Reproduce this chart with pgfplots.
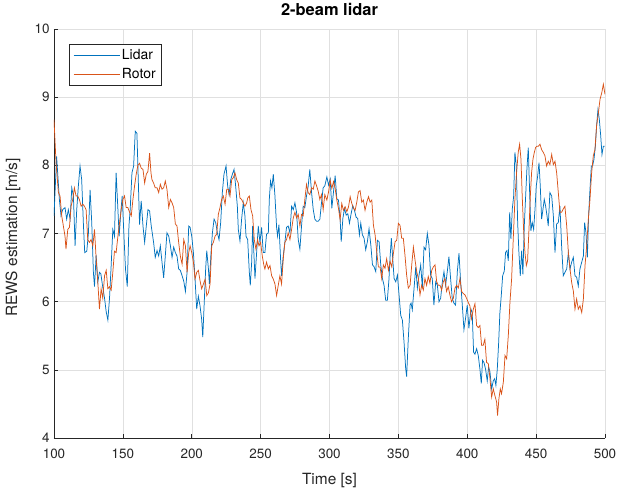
\documentclass[border=0pt]{standalone}
\usepackage{pgfplots}
\pgfplotsset{compat=1.18}
\usepackage{fontspec}
\setmainfont{TeX Gyre Heros}
\definecolor{mblue}{rgb}{0,0.447,0.741}
\definecolor{morange}{rgb}{0.85,0.325,0.098}
\definecolor{axgray}{rgb}{0.15,0.15,0.15}
\begin{document}
\begin{tikzpicture}
\useasboundingbox (-54bp,-55bp) rectangle (566bp,438bp);
\begin{axis}[
  at={(0,0)}, anchor=south west,
  scale only axis, width=551bp, height=409bp,
  xmin=100, xmax=500, ymin=4, ymax=10,
  xtick={100,150,...,500}, ytick={4,5,...,10},
  axis x line*=bottom, axis y line*=left,
  tick align=inside, major tick length=4bp,
  grid=major, grid style={color=black!12, line width=0.5pt},
  axis line style={axgray, line width=0.6pt, -},
  tick style={axgray, line width=0.6pt},
  ticklabel style={font=\fontsize{13.5}{16}\selectfont, text=axgray},
  xticklabel style={yshift=-7bp},
  yticklabel style={xshift=-1bp},
  /pgf/number format/assume math mode=true,
  /pgf/number format/1000 sep={},
  title={\textbf{2-beam lidar}},
  title style={at={(axis description cs:0.5,1.033)}, anchor=center, font=\fontsize{16.5}{19}\selectfont, text=black},
  xlabel={Time [s]}, ylabel={REWS estimation [m/s]},
  xlabel style={at={(axis description cs:0.5,-0.105)}, anchor=center, font=\fontsize{15.5}{18}\selectfont, text=axgray},
  ylabel style={at={(axis description cs:-0.0744,0.49)}, anchor=center, font=\fontsize{15.5}{18}\selectfont, text=axgray},
  legend style={at={(rel axis cs:0.0272,0.9633)}, anchor=north west, draw=axgray, line width=0.5pt,
    font=\fontsize{14}{16}\selectfont, text=black, inner xsep=4bp, inner ysep=3.5bp, row sep=3bp, fill=white},
  legend cell align=left,
  legend image code/.code={\draw[#1] (0bp,0bp)--(46bp,0bp);},
]
\addplot[mblue, line width=0.75pt] coordinates {
(100.0,7.26)(101.9,8.13)(103.9,7.5)(105.1,7.26)(106.3,7.35)(108.0,7.38)(109.2,7.21)(110.4,7.35)(111.7,7.21)(112.9,7.67)(114.1,7.55)(115.3,6.82)(116.5,7.35)(117.7,7.7)(118.9,7.99)(120.1,7.79)(121.4,7.11)(122.3,6.72)(123.8,6.74)(125.0,7.01)(126.2,7.64)(127.4,7.16)(128.6,6.43)(129.4,6.22)(130.6,6.68)(131.8,6.29)(133.0,6.43)(134.0,6.41)(135.2,6.24)(136.7,6.05)(137.9,5.85)(139.1,5.73)(140.3,6.05)(141.5,6.53)(142.7,7.06)(143.9,6.96)(145.1,7.89)(146.4,7.35)(147.3,6.96)(148.5,7.31)(149.5,7.55)(151.0,6.87)(151.9,6.48)(153.2,6.22)(154.4,7.11)(155.3,7.35)(156.6,7.89)(157.8,7.99)(159.0,8.5)(160.2,8.47)(160.9,7.99)(162.1,7.13)(163.3,7.48)(164.6,7.11)(165.8,6.87)(167.0,7.11)(168.2,7.35)(169.4,7.33)(170.6,7.11)(172.3,6.87)(173.5,6.65)(174.8,6.75)(176.0,6.67)(177.2,6.82)(178.4,6.58)(179.6,6.35)(180.8,6.67)(182.0,7.01)(183.3,6.96)(184.5,6.82)(185.7,6.65)(186.9,6.8)(188.1,6.72)(189.3,6.67)(190.5,6.48)(191.7,6.46)(193.0,6.38)(194.2,6.3)(195.4,6.15)(196.6,6.43)(197.8,7.11)(198.8,7.09)
(200.0,6.96)(201.2,6.72)(202.4,6.33)(203.6,5.89)(204.8,6.08)(206.0,5.94)(207.2,5.74)(208.0,5.48)(209.2,6.05)(210.1,6.48)(210.9,6.75)(212.1,6.48)(212.8,6.26)(214.0,6.72)(215.0,7.01)(216.2,7.21)(217.4,7.16)(218.6,7.01)(219.8,6.91)(221.0,7.16)(222.2,7.6)(223.4,7.87)(224.9,7.99)(226.1,7.69)(227.1,7.57)(228.3,7.79)(229.5,7.87)(230.7,7.94)(231.9,7.69)(233.1,7.4)(233.8,7.06)(235.0,6.89)(236.2,7.21)(237.4,7.45)(238.6,7.26)(239.4,6.96)(240.6,6.91)(241.8,6.43)(242.5,6.24)(243.5,6.58)(244.2,7.11)(245.2,6.67)(245.9,6.34)(247.1,6.72)(248.3,7.11)(249.5,6.87)(250.7,7.09)(251.9,6.72)(253.1,6.72)(254.3,6.99)(255.6,7.01)(256.3,7.5)(257.2,7.77)(258.2,7.67)(259.2,7.87)(260.4,7.55)(261.6,7.09)(262.3,6.96)(263.3,7.13)(264.5,6.62)(265.2,6.38)(266.4,6.67)(267.6,6.87)(268.8,7.09)(270.0,7.11)(271.3,7.01)(272.5,7.4)(273.7,7.35)(274.9,7.45)(276.1,7.31)(277.3,6.91)(278.5,6.77)(279.7,7.11)(280.9,7.4)(282.1,7.38)(283.3,7.55)(284.5,7.69)(285.7,7.94)(287.0,7.6)(288.2,7.35)(289.4,7.21)(290.6,7.18)(291.8,7.18)(293.0,7.21)(294.2,7.45)(295.4,7.67)(296.6,7.7)
(298.1,7.83)(299.3,7.71)(300.5,7.8)(301.7,7.37)(302.9,7.61)(304.1,7.85)(305.3,7.51)(306.5,7.49)(307.7,7.22)(308.5,6.88)(309.7,7.22)(310.9,7.37)(312.1,7.27)(313.3,7.29)(314.5,7.15)(315.7,7.29)(316.9,7.41)(318.1,7.34)(319.3,7.24)(320.5,7.22)(321.7,6.98)(322.7,7.15)(323.9,6.98)(325.1,6.93)(326.3,6.76)(327.5,6.88)(328.7,7.07)(330.0,6.83)(331.2,6.54)(332.4,6.51)(333.6,6.44)(334.8,6.9)(336.0,6.88)(337.2,6.54)(338.4,6.34)(339.6,6.24)(340.8,6.02)(342.0,6.02)(343.2,6.34)(344.0,6.66)(344.9,6.93)(345.9,6.63)(346.9,6.34)(348.1,6.29)(349.3,6.39)(350.5,6.1)(351.7,5.8)(352.9,5.73)(354.1,5.41)(355.3,5.02)(356.0,4.9)(357.2,5.46)(358.5,5.95)(359.2,5.98)(360.1,5.88)(361.4,6.2)(362.6,6.51)(363.8,6.2)(365.0,6.39)(366.2,6.54)(367.4,6.2)(368.6,6.8)(369.8,6.76)(371.0,7.0)(372.2,6.83)(373.4,6.39)(374.6,6.34)(375.8,5.95)(377.1,6.29)(378.3,6.24)(379.5,6.0)(380.7,6.05)(381.9,6.29)(383.1,6.44)(384.3,6.24)(385.5,6.44)(386.7,6.66)(387.9,6.34)(389.1,6.05)(390.3,5.98)(391.5,5.95)(392.8,6.44)(394.0,6.71)(395.2,6.29)(396.4,5.95)(397.6,5.59)(398.8,5.76)(400.0,5.95)(401.2,5.61)
(402.7,5.89)(403.6,5.84)(404.6,5.26)(405.6,5.23)(406.8,5.31)(408.0,5.21)(409.2,5.01)(410.2,4.8)(411.1,5.14)(412.1,5.11)(413.3,5.01)(414.5,4.84)(415.5,5.04)(416.5,4.97)(417.7,4.72)(418.9,4.84)(419.9,4.87)(420.8,4.77)(421.8,5.01)(422.8,5.4)(423.7,5.84)(424.7,6.09)(425.7,6.38)(426.9,6.45)(427.8,6.72)(428.8,6.75)(429.8,6.6)(430.8,7.31)(431.7,6.92)(432.7,7.36)(433.7,7.55)(434.6,8.19)(435.6,7.99)(436.6,7.16)(437.5,6.72)(438.5,6.38)(439.5,6.75)(440.4,6.4)(441.4,7.11)(442.4,7.55)(443.3,7.94)(444.3,8.26)(445.3,7.6)(446.2,7.04)(447.2,7.16)(448.2,7.06)(449.2,7.36)(450.1,7.7)(451.1,7.84)(452.1,8.04)(453.0,7.7)(454.0,7.21)(455.0,7.36)(455.9,7.5)(456.9,7.4)(457.9,7.26)(458.8,7.11)(460.0,7.6)(461.3,7.55)(462.5,7.26)(463.7,6.72)(464.9,7.14)(466.1,7.16)(467.3,7.4)(468.5,6.82)(469.7,6.38)(470.9,6.43)(472.2,6.48)(473.4,6.72)(474.6,6.48)(475.8,6.58)(477.0,6.65)(478.2,6.38)(479.4,6.36)(480.6,6.23)(481.8,6.48)(483.1,6.58)(484.3,6.67)(485.2,7.16)(486.2,7.01)(487.2,6.65)(488.1,7.26)(489.1,7.65)(490.1,7.99)(491.0,7.99)(492.0,8.09)(493.0,8.28)(493.9,8.58)(494.9,8.82)(495.9,8.67)(496.9,8.43)(497.8,8.16)(498.8,8.28)(499.8,8.28)
};
\addlegendentry{Lidar}
\addplot[morange, line width=0.75pt] coordinates {
(100.0,8.67)(101.5,8.03)(103.2,7.6)(104.4,7.55)(105.6,7.26)(106.8,7.11)(108.0,6.96)(108.7,6.77)(110.0,7.06)(111.2,7.09)(112.4,7.4)(113.6,7.5)(114.8,7.67)(116.0,7.55)(117.2,7.55)(118.4,7.5)(119.7,7.4)(120.9,7.43)(122.1,7.4)(123.3,7.35)(124.5,6.91)(125.7,6.87)(126.9,6.91)(128.2,6.82)(129.4,7.06)(130.6,6.63)(131.8,6.29)(133.0,5.89)(134.2,6.19)(135.4,6.05)(136.7,6.38)(137.9,6.46)(139.1,6.19)(140.3,6.22)(141.5,6.17)(142.7,6.43)(143.9,6.74)(145.1,6.72)(146.4,6.96)(147.6,7.16)(148.8,7.35)(150.0,7.5)(151.2,7.55)(152.4,7.38)(153.6,7.38)(154.9,7.31)(156.1,7.26)(157.3,7.5)(158.5,7.7)(159.7,7.87)(160.9,8.0)(162.1,8.03)(163.3,7.96)(164.6,7.94)(165.8,7.74)(167.0,7.87)(168.2,7.91)(169.4,8.18)(170.4,7.89)(171.1,7.79)(172.3,7.74)(173.5,7.67)(174.8,7.67)(176.0,7.6)(177.2,7.72)(178.4,7.65)(179.6,7.67)(180.8,7.77)(182.0,7.65)(183.3,7.38)(184.5,7.5)(185.7,7.45)(186.9,7.38)(188.1,7.14)(189.3,7.11)(190.5,6.87)(191.7,6.67)(193.0,6.55)(194.2,6.91)(195.4,6.82)(196.6,6.43)(197.8,6.72)(198.8,6.82)
(200.0,6.72)(201.2,6.58)(202.4,6.33)(203.6,6.43)(204.8,6.46)(206.0,6.31)(207.2,6.19)(208.5,6.26)(209.7,6.33)(210.9,6.09)(212.1,6.13)(213.3,6.26)(214.5,6.82)(215.7,6.87)(216.9,6.96)(218.1,6.99)(219.3,7.28)(220.5,7.38)(221.7,7.5)(222.9,7.55)(224.2,7.43)(225.4,7.65)(226.6,7.65)(227.8,7.55)(229.0,7.79)(230.2,7.82)(231.4,7.89)(232.6,7.79)(233.8,7.74)(235.0,7.52)(236.2,7.5)(237.4,7.45)(238.6,7.4)(239.9,7.45)(240.6,7.52)(241.8,7.55)(243.0,7.35)(244.2,7.26)(245.4,6.91)(246.6,6.77)(247.8,6.91)(248.8,6.82)(250.0,6.87)(251.2,6.67)(252.4,6.53)(253.1,6.48)(254.3,6.58)(255.6,6.48)(256.8,6.53)(258.0,6.38)(259.2,6.33)(260.4,6.26)(261.6,6.09)(262.8,6.24)(264.0,6.38)(265.2,6.26)(266.4,6.62)(267.6,6.87)(268.8,6.91)(270.0,7.01)(271.3,6.91)(272.5,7.06)(273.7,7.23)(274.9,7.31)(276.1,7.23)(277.3,7.28)(278.5,7.11)(279.7,7.28)(280.9,7.26)(282.1,7.5)(283.3,7.72)(284.5,7.6)(285.7,7.57)(287.0,7.67)(288.2,7.65)(289.4,7.77)(290.6,7.7)(291.8,7.62)(293.0,7.5)(294.2,7.57)(295.4,7.35)(296.6,7.57)
(298.1,7.49)(299.3,7.61)(300.5,7.78)(301.7,7.66)(302.9,7.76)(304.1,7.66)(305.3,7.49)(306.5,7.37)(307.7,7.2)(308.9,7.44)(310.1,7.34)(311.4,7.39)(312.6,7.32)(313.8,7.39)(315.0,7.54)(316.2,7.44)(317.4,7.37)(318.6,7.34)(319.8,7.46)(321.0,7.61)(322.2,7.63)(323.4,7.46)(324.6,7.49)(325.8,7.34)(327.1,7.46)(328.3,7.54)(329.5,7.46)(330.7,7.49)(331.9,7.12)(333.1,6.98)(334.3,6.73)(335.5,6.51)(336.7,6.51)(337.9,6.34)(339.1,6.54)(340.3,6.49)(341.5,6.63)(342.8,6.46)(344.0,6.59)(345.2,6.51)(346.4,6.71)(347.6,6.88)(348.8,6.9)(350.0,7.15)(351.2,7.12)(352.4,6.93)(353.6,6.93)(354.8,6.68)(356.0,6.39)(357.2,6.2)(358.5,6.24)(359.7,6.54)(360.9,6.8)(362.1,6.61)(363.3,6.44)(364.5,6.34)(365.7,6.1)(366.9,6.24)(368.1,6.17)(369.3,6.34)(370.5,6.24)(371.7,6.37)(372.9,6.27)(374.2,6.46)(375.4,6.51)(376.6,6.54)(377.8,6.29)(379.0,6.24)(380.2,6.24)(381.4,6.17)(382.6,6.29)(383.8,6.34)(385.0,6.15)(386.2,6.22)(387.4,6.1)(388.6,6.0)(389.9,6.05)(391.1,6.2)(392.3,6.24)(393.5,6.2)(394.7,6.34)(395.9,6.15)(397.1,6.12)(398.3,6.1)(399.5,6.05)(400.7,5.99)
(401.9,5.94)(403.1,5.75)(404.4,5.89)(405.6,5.97)(406.8,5.65)(408.0,5.62)(409.2,5.65)(410.4,5.36)(411.6,5.36)(412.8,5.45)(414.0,5.11)(415.3,5.09)(416.5,4.87)(417.7,4.6)(418.9,4.72)(420.1,4.62)(421.3,4.53)(422.0,4.33)(423.0,4.58)(424.0,4.72)(424.9,4.65)(426.2,4.82)(427.4,5.21)(428.6,5.16)(429.8,5.5)(431.0,5.99)(432.2,6.33)(433.4,6.92)(434.6,7.5)(435.8,7.89)(437.0,8.19)(438.0,8.31)(439.0,8.09)(439.9,7.55)(440.9,7.06)(441.9,6.72)(442.9,6.53)(443.8,6.6)(444.8,7.06)(445.8,7.55)(446.7,7.89)(447.7,8.09)(448.7,8.19)(449.6,8.26)(450.6,8.28)(451.6,8.28)(452.8,8.31)(454.0,8.23)(455.2,8.19)(456.4,8.14)(457.6,7.99)(458.8,8.06)(460.0,8.01)(461.3,8.16)(462.5,8.01)(463.7,8.06)(464.9,7.89)(466.1,7.6)(467.3,7.31)(468.5,7.31)(469.7,7.36)(470.9,7.4)(472.2,7.11)(473.4,6.72)(474.6,6.48)(475.8,6.28)(477.0,6.16)(478.2,5.89)(479.4,6.04)(480.6,5.89)(481.8,5.94)(483.1,5.84)(484.3,6.04)(485.5,6.53)(486.7,6.82)(487.9,7.21)(489.1,7.5)(490.3,7.89)(491.5,8.14)(492.7,8.23)(493.9,8.58)(495.2,8.77)(496.4,8.97)(497.6,9.06)(498.8,9.19)(500.0,9.04)
};
\addlegendentry{Rotor}
\end{axis}
\end{tikzpicture}
\end{document}
